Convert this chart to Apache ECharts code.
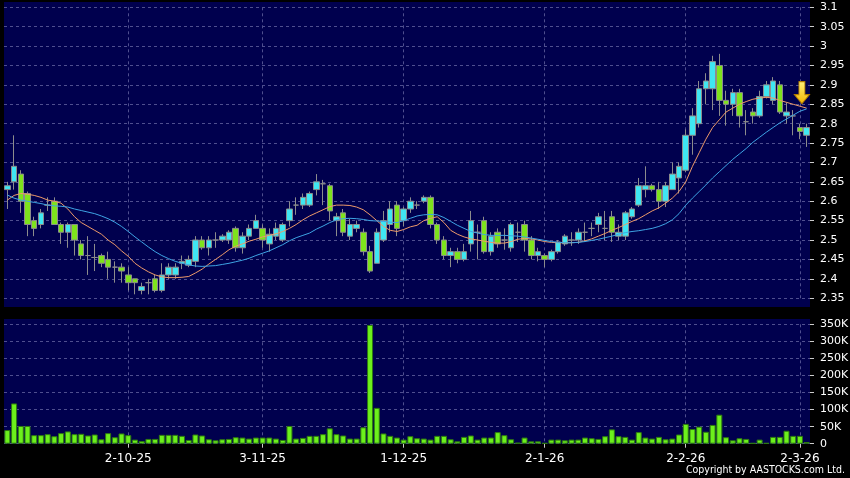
<!DOCTYPE html>
<html>
<head>
<meta charset="utf-8">
<style>
  html, body { margin: 0; padding: 0; background: #000; }
  #chart { width: 850px; height: 478px; }
</style>
<script src="https://cdn.jsdelivr.net/npm/echarts@6/dist/echarts.min.js"></script>
</head>
<body>
<div id="chart"></div>
<script>
// daily bars, oldest first
const openP = [
  2.63, 2.65, 2.67, 2.62, 2.55, 2.54, 2.59, 2.60, 2.54, 2.52,
  2.54, 2.49, 2.46, 2.455, 2.46, 2.45, 2.43, 2.43, 2.41, 2.40,
  2.37, 2.39, 2.40, 2.37, 2.41, 2.41, 2.44, 2.435, 2.445, 2.50,
  2.48, 2.50, 2.50, 2.50, 2.53, 2.48, 2.51, 2.53, 2.53, 2.49,
  2.51, 2.50, 2.55, 2.59, 2.59, 2.59, 2.63, 2.645, 2.64, 2.55,
  2.57, 2.51, 2.53, 2.52, 2.47, 2.44, 2.50, 2.54, 2.59, 2.55,
  2.58, 2.59, 2.60, 2.61, 2.54, 2.50, 2.46, 2.47, 2.45, 2.49,
  2.52, 2.55, 2.47, 2.52, 2.50, 2.48, 2.52, 2.54, 2.50, 2.46,
  2.46, 2.45, 2.47, 2.49, 2.50, 2.50, 2.52, 2.53, 2.54, 2.53,
  2.56, 2.51, 2.51, 2.56, 2.59, 2.63, 2.64, 2.63, 2.60, 2.63,
  2.66, 2.68, 2.77, 2.80, 2.89, 2.89, 2.95, 2.86, 2.85, 2.88,
  2.805, 2.83, 2.82, 2.87, 2.86, 2.90, 2.82, 2.82, 2.79, 2.77
]
const closeP = [
  2.64, 2.69, 2.60, 2.54, 2.53, 2.57, 2.59, 2.54, 2.52, 2.54,
  2.50, 2.46, 2.46, 2.455, 2.44, 2.43, 2.43, 2.42, 2.39, 2.39,
  2.38, 2.39, 2.37, 2.41, 2.43, 2.43, 2.445, 2.45, 2.50, 2.48,
  2.50, 2.50, 2.51, 2.52, 2.48, 2.51, 2.53, 2.55, 2.50, 2.515,
  2.53, 2.54, 2.58, 2.59, 2.61, 2.62, 2.65, 2.645, 2.575, 2.56,
  2.52, 2.54, 2.54, 2.47, 2.42, 2.52, 2.55, 2.58, 2.53, 2.58,
  2.60, 2.59, 2.61, 2.54, 2.50, 2.46, 2.47, 2.45, 2.47, 2.55,
  2.52, 2.47, 2.51, 2.49, 2.50, 2.54, 2.52, 2.50, 2.46, 2.47,
  2.45, 2.47, 2.495, 2.51, 2.50, 2.52, 2.52, 2.53, 2.56, 2.53,
  2.52, 2.52, 2.57, 2.58, 2.64, 2.64, 2.63, 2.60, 2.64, 2.67,
  2.69, 2.77, 2.82, 2.89, 2.91, 2.96, 2.86, 2.85, 2.88, 2.82,
  2.805, 2.82, 2.87, 2.90, 2.91, 2.83, 2.83, 2.82, 2.78, 2.79
]
const highP = [
  2.65, 2.77, 2.68, 2.625, 2.56, 2.58, 2.61, 2.61, 2.545, 2.545,
  2.54, 2.50, 2.51, 2.49, 2.465, 2.47, 2.445, 2.44, 2.43, 2.40,
  2.39, 2.40, 2.41, 2.44, 2.44, 2.44, 2.46, 2.46, 2.51, 2.51,
  2.51, 2.52, 2.515, 2.525, 2.535, 2.52, 2.54, 2.565, 2.54, 2.53,
  2.545, 2.545, 2.60, 2.61, 2.62, 2.625, 2.67, 2.655, 2.645, 2.57,
  2.58, 2.555, 2.55, 2.53, 2.485, 2.53, 2.575, 2.60, 2.60, 2.585,
  2.61, 2.60, 2.615, 2.615, 2.545, 2.51, 2.48, 2.48, 2.49, 2.575,
  2.54, 2.56, 2.52, 2.53, 2.53, 2.545, 2.545, 2.55, 2.51, 2.48,
  2.465, 2.475, 2.50, 2.515, 2.52, 2.53, 2.545, 2.545, 2.57, 2.575,
  2.575, 2.54, 2.575, 2.585, 2.66, 2.69, 2.645, 2.65, 2.65, 2.70,
  2.70, 2.785, 2.84, 2.91, 2.93, 2.975, 2.98, 2.885, 2.89, 2.89,
  2.835, 2.84, 2.885, 2.91, 2.92, 2.91, 2.855, 2.835, 2.80, 2.80
]
const lowP = [
  2.58, 2.63, 2.57, 2.51, 2.51, 2.53, 2.575, 2.54, 2.49, 2.48,
  2.46, 2.45, 2.41, 2.42, 2.43, 2.40, 2.39, 2.39, 2.37, 2.36,
  2.36, 2.36, 2.365, 2.365, 2.40, 2.40, 2.425, 2.43, 2.43, 2.475,
  2.46, 2.48, 2.495, 2.49, 2.47, 2.465, 2.50, 2.53, 2.48, 2.47,
  2.50, 2.495, 2.535, 2.565, 2.58, 2.585, 2.615, 2.59, 2.55, 2.51,
  2.51, 2.50, 2.52, 2.46, 2.415, 2.44, 2.495, 2.52, 2.51, 2.535,
  2.57, 2.58, 2.595, 2.53, 2.49, 2.45, 2.43, 2.44, 2.445, 2.47,
  2.45, 2.465, 2.46, 2.48, 2.475, 2.47, 2.495, 2.47, 2.45, 2.445,
  2.43, 2.445, 2.465, 2.485, 2.485, 2.49, 2.495, 2.51, 2.52, 2.50,
  2.495, 2.50, 2.50, 2.555, 2.585, 2.61, 2.625, 2.58, 2.585, 2.63,
  2.62, 2.675, 2.72, 2.79, 2.85, 2.835, 2.82, 2.795, 2.82, 2.79,
  2.77, 2.80, 2.815, 2.865, 2.85, 2.825, 2.80, 2.77, 2.76, 2.74
]
// moving averages as drawn (orange = short, blue = long)
const maShort = [
  2.603, 2.615, 2.62, 2.618, 2.615, 2.61, 2.603, 2.60, 2.595, 2.58,
  2.56, 2.545, 2.535, 2.525, 2.515, 2.50, 2.488, 2.472, 2.458, 2.44,
  2.428, 2.418, 2.41, 2.405, 2.403, 2.403, 2.404, 2.406, 2.415, 2.425,
  2.438, 2.45, 2.462, 2.475, 2.484, 2.49, 2.497, 2.502, 2.508, 2.512,
  2.516, 2.522, 2.53, 2.54, 2.552, 2.562, 2.57, 2.578, 2.586, 2.59,
  2.59, 2.589, 2.585, 2.578, 2.565, 2.55, 2.535, 2.525, 2.522, 2.527,
  2.534, 2.538, 2.55, 2.556, 2.56, 2.545, 2.525, 2.515, 2.508, 2.503,
  2.50, 2.497, 2.494, 2.492, 2.492, 2.496, 2.502, 2.504, 2.503, 2.50,
  2.496, 2.494, 2.493, 2.493, 2.493, 2.494, 2.498, 2.503, 2.51, 2.517,
  2.525, 2.532, 2.54, 2.548, 2.555, 2.565, 2.575, 2.583, 2.595, 2.608,
  2.625, 2.65, 2.69, 2.725, 2.76, 2.79, 2.81, 2.83, 2.84, 2.85,
  2.857, 2.863, 2.866, 2.868, 2.866, 2.86, 2.855, 2.85, 2.845, 2.84
]
const maLong = [
  2.616, 2.608, 2.603, 2.60, 2.597, 2.594, 2.59, 2.588, 2.587, 2.585,
  2.58, 2.576, 2.572, 2.568, 2.562, 2.555, 2.546, 2.535, 2.522, 2.508,
  2.495, 2.482, 2.47, 2.46, 2.452, 2.445, 2.44, 2.436, 2.433, 2.432,
  2.433, 2.434, 2.437, 2.44, 2.444, 2.448, 2.453, 2.46, 2.466, 2.472,
  2.48, 2.488, 2.498, 2.506, 2.512, 2.518, 2.528, 2.536, 2.545, 2.552,
  2.555, 2.556, 2.555, 2.553, 2.55, 2.549, 2.548, 2.546, 2.545, 2.55,
  2.556, 2.562, 2.565, 2.566, 2.565, 2.558, 2.548, 2.538, 2.53, 2.522,
  2.518, 2.514, 2.512, 2.512, 2.512, 2.511, 2.51, 2.508, 2.505, 2.502,
  2.499, 2.496, 2.494, 2.493, 2.493, 2.494, 2.496, 2.499, 2.502, 2.506,
  2.51, 2.515, 2.519, 2.522, 2.524, 2.527, 2.53, 2.535, 2.542, 2.552,
  2.568, 2.59, 2.608, 2.625, 2.642, 2.66, 2.676, 2.692, 2.708, 2.722,
  2.736, 2.752, 2.765, 2.778, 2.79, 2.802, 2.812, 2.822, 2.832, 2.838
]
// volume in thousands of shares
const volumeK = [
  40, 118, 52, 52, 25, 25, 28, 22, 31, 36,
  28, 29, 24, 27, 13, 31, 19, 30, 25, 12,
  8, 14, 14, 26, 26, 26, 23, 11, 27, 24,
  13, 10, 13, 14, 19, 18, 15, 18, 18, 18,
  15, 11, 52, 15, 17, 23, 23, 28, 45, 28,
  24, 15, 15, 48, 348, 105, 30, 23, 18, 12,
  22, 16, 15, 12, 23, 23, 13, 7, 20, 24,
  12, 18, 18, 34, 25, 13, 3, 18, 7, 7,
  2, 12, 12, 10, 12, 12, 18, 16, 14, 22,
  42, 22, 20, 12, 34, 18, 15, 20, 13, 15,
  27, 58, 43, 50, 35, 55, 85, 19, 10, 16,
  14, 2, 12, 2, 20, 20, 38, 23, 23, 5
]
// date ticks on the time axis (bar index -> label)
const tickIdx = [18, 38, 59, 80, 101, 118]
const tickText = ['2-10-25', '3-11-25', '1-12-25', '2-1-26', '2-2-26', '2-3-26']
// arrow marker near the last bars
const arrowAt = [118, 2.88]

const days = openP.map((_, i) => i)
const candles = openP.map((o, i) => [o, closeP[i], lowP[i], highP[i]])
const isTick = i => tickIdx.indexOf(i) >= 0

const font = 'DejaVu Sans'
const gridColor = '#4f4f8f'
const panelColor = '#00004e'
const upColor = '#3fe6f2'
const downColor = '#7ee31c'
const edgeColor = '#8c8c8c'

const chart = echarts.init(document.getElementById('chart'))

const splitX = {
  show: true,
  interval: isTick,
  alignWithLabel: true,
  lineStyle: { color: gridColor, type: [3, 3], width: 1 }
}
const splitY = { show: true, lineStyle: { color: gridColor, type: [3, 3], width: 1 } }

chart.setOption({
  animation: false,
  backgroundColor: '#000',
  title: {
    text: 'Copyright by AASTOCKS.com Ltd.',
    right: 5,
    top: 465,
    padding: 0,
    textStyle: { color: '#fff', fontSize: 10.5, fontWeight: 'normal', fontFamily: 'DejaVu Sans Condensed, DejaVu Sans' }
  },
  graphic: [
    { type: 'rect', z: -10, silent: true, shape: { x: 4, y: 2, width: 806, height: 305 }, style: { fill: panelColor } },
    { type: 'rect', z: -10, silent: true, shape: { x: 4, y: 319, width: 806, height: 125 }, style: { fill: panelColor } }
  ],
  grid: [
    { left: 4, right: 40, top: 7.3, height: 290.9, outerBoundsMode: 'none', containLabel: false },
    { left: 4, right: 40, top: 324.3, height: 119.4, outerBoundsMode: 'none', containLabel: false }
  ],
  xAxis: [
    {
      type: 'category', gridIndex: 0, data: days, boundaryGap: true,
      axisLine: { show: false }, axisTick: { show: false }, axisLabel: { show: false },
      splitLine: splitX
    },
    {
      type: 'category', gridIndex: 1, data: days, boundaryGap: true,
      axisLine: { show: false },
      axisTick: { show: true, interval: isTick, alignWithLabel: true, length: 4, lineStyle: { color: '#cccccc' } },
      axisLabel: {
        show: true, interval: isTick, margin: 9,
        color: '#fff', fontSize: 12, fontFamily: font,
        formatter: (v, i) => tickText[tickIdx.indexOf(i)] || ''
      },
      splitLine: splitX
    }
  ],
  yAxis: [
    {
      type: 'value', gridIndex: 0, position: 'right',
      min: 2.35, max: 3.1, interval: 0.05,
      axisLine: { show: false },
      axisTick: { show: true, length: 4, lineStyle: { color: '#cccccc' } },
      axisLabel: { color: '#fff', fontSize: 11, fontFamily: font, margin: 10, formatter: v => String(+v.toFixed(2)) },
      splitLine: splitY
    },
    {
      type: 'value', gridIndex: 1, position: 'right',
      min: 0, max: 350, interval: 50,
      axisLine: { show: false },
      axisTick: { show: true, length: 4, lineStyle: { color: '#cccccc' } },
      axisLabel: { color: '#fff', fontSize: 11, fontFamily: font, margin: 10, formatter: v => (v === 0 ? '0' : v + 'K') },
      splitLine: splitY
    }
  ],
  series: [
    {
      name: 'price', type: 'candlestick', xAxisIndex: 0, yAxisIndex: 0,
      data: candles, barWidth: 6,
      itemStyle: {
        color: upColor, color0: downColor,
        borderColor: edgeColor, borderColor0: edgeColor, borderColorDoji: edgeColor,
        borderWidth: 1
      }
    },
    {
      name: 'MA short', type: 'line', xAxisIndex: 0, yAxisIndex: 0, z: 3,
      data: maShort, showSymbol: false, smooth: false,
      lineStyle: { color: '#ee9a6a', width: 1 },
      markPoint: {
        silent: true,
        symbol: 'path://M4.5,0 L10.5,0 L10.5,13 L15,13 L7.5,22 L0,13 L4.5,13 Z',
        symbolSize: [15, 22],
        symbolKeepAspect: false,
        symbolOffset: [2, 0],
        label: { show: false },
        itemStyle: {
          color: new echarts.graphic.LinearGradient(0, 0, 0, 1, [
            { offset: 0, color: '#fff27a' },
            { offset: 1, color: '#f2b400' }
          ]),
          borderColor: '#b07a00',
          borderWidth: 1
        },
        data: [{ coord: arrowAt }]
      }
    },
    {
      name: 'MA long', type: 'line', xAxisIndex: 0, yAxisIndex: 0, z: 3,
      data: maLong, showSymbol: false, smooth: false,
      lineStyle: { color: '#3ea4e4', width: 1 }
    },
    {
      name: 'volume', type: 'bar', xAxisIndex: 1, yAxisIndex: 1,
      data: volumeK, barWidth: 6,
      itemStyle: { color: '#6cf01c', borderColor: '#2e7a10', borderWidth: 1 }
    }
  ]
})
</script>
</body>
</html>
